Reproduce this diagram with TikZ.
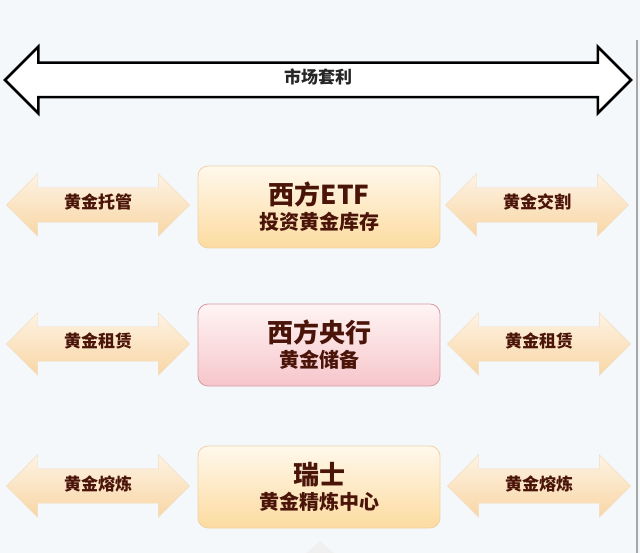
\documentclass[tikz,border=0pt]{standalone}
\usepackage{fontspec}
\setmainfont{Noto Sans CJK SC}
\usetikzlibrary{shapes.arrows}

\definecolor{bgcol}{HTML}{F5F8FB}
\definecolor{textcol}{HTML}{4A1409}
\definecolor{arrowtop}{HTML}{FEF3E4}
\definecolor{arrowbot}{HTML}{F8D6A4}
\definecolor{arrowline}{HTML}{F1DCC0}
\definecolor{goldtop}{HTML}{FFF8EC}
\definecolor{goldbot}{HTML}{FCDB9F}
\definecolor{goldline}{HTML}{EFD3A6}
\definecolor{pinktop}{HTML}{FFF4F4}
\definecolor{pinkbot}{HTML}{F6C6CB}
\definecolor{pinkline}{HTML}{D89AA5}

\begin{document}
\begin{tikzpicture}[x=1pt,y=-1pt,
  gold arrow/.style={double arrow,double arrow head extend=14pt,double arrow tip angle=90,
    minimum height=183pt,inner xsep=0pt,inner ysep=10pt,text height=11pt,text depth=3pt,
    top color=arrowtop,bottom color=arrowbot,draw=arrowline,line width=0.4pt,
    text=textcol,font=\bfseries\fontsize{17}{17}\selectfont},
  main box/.style={rectangle,rounded corners=10pt,minimum width=242pt,minimum height=82pt,
    align=center,text=textcol,line width=0.8pt,font=\bfseries},
  gold box/.style={main box,top color=goldtop,bottom color=goldbot,draw=goldline},
  pink box/.style={main box,top color=pinktop,bottom color=pinkbot,draw=pinkline}]

  \fill[bgcol] (0,0) rectangle (640,553);
  \useasboundingbox (0,0) rectangle (640,553);

  % market arbitrage
  \node[double arrow,double arrow head extend=16pt,double arrow tip angle=90,
    minimum height=626pt,inner xsep=0pt,inner ysep=9pt,text height=11pt,text depth=3pt,
    draw=black,line width=2.5pt,fill=white,text=black!85,
    font=\bfseries\fontsize{17}{17}\selectfont]
    (arb) at (318,80) {市场套利};

  % boxes
  \node[gold box] (etf) at (319,207)
    {{\fontsize{26}{26}\selectfont 西方ETF}\\[4pt]{\fontsize{20}{20}\selectfont 投资黄金库存}};
  \node[pink box] (cb) at (319,345)
    {{\fontsize{26}{26}\selectfont 西方央行}\\[4pt]{\fontsize{20}{20}\selectfont 黄金储备}};
  \node[gold box] (swiss) at (319,487)
    {{\fontsize{26}{26}\selectfont 瑞士}\\[4pt]{\fontsize{20}{20}\selectfont 黄金精炼中心}};

  % side arrows
  \node[gold arrow] (l1) at (98,205) {黄金托管};
  \node[gold arrow] (r1) at (537,205) {黄金交割};
  \node[gold arrow] (l2) at (98,344) {黄金租赁};
  \node[gold arrow] (r2) at (539,344) {黄金租赁};
  \node[gold arrow] (l3) at (98,486) {黄金熔炼};
  \node[gold arrow] (r3) at (539,486) {黄金熔炼};

  % edge line and cut-off tip
  \draw[gray!70,line width=1.5pt] (637,40) -- (637,553);
  \fill[gray!12] (306,553) -- (320,541) -- (334,553) -- cycle;
\end{tikzpicture}
\end{document}
